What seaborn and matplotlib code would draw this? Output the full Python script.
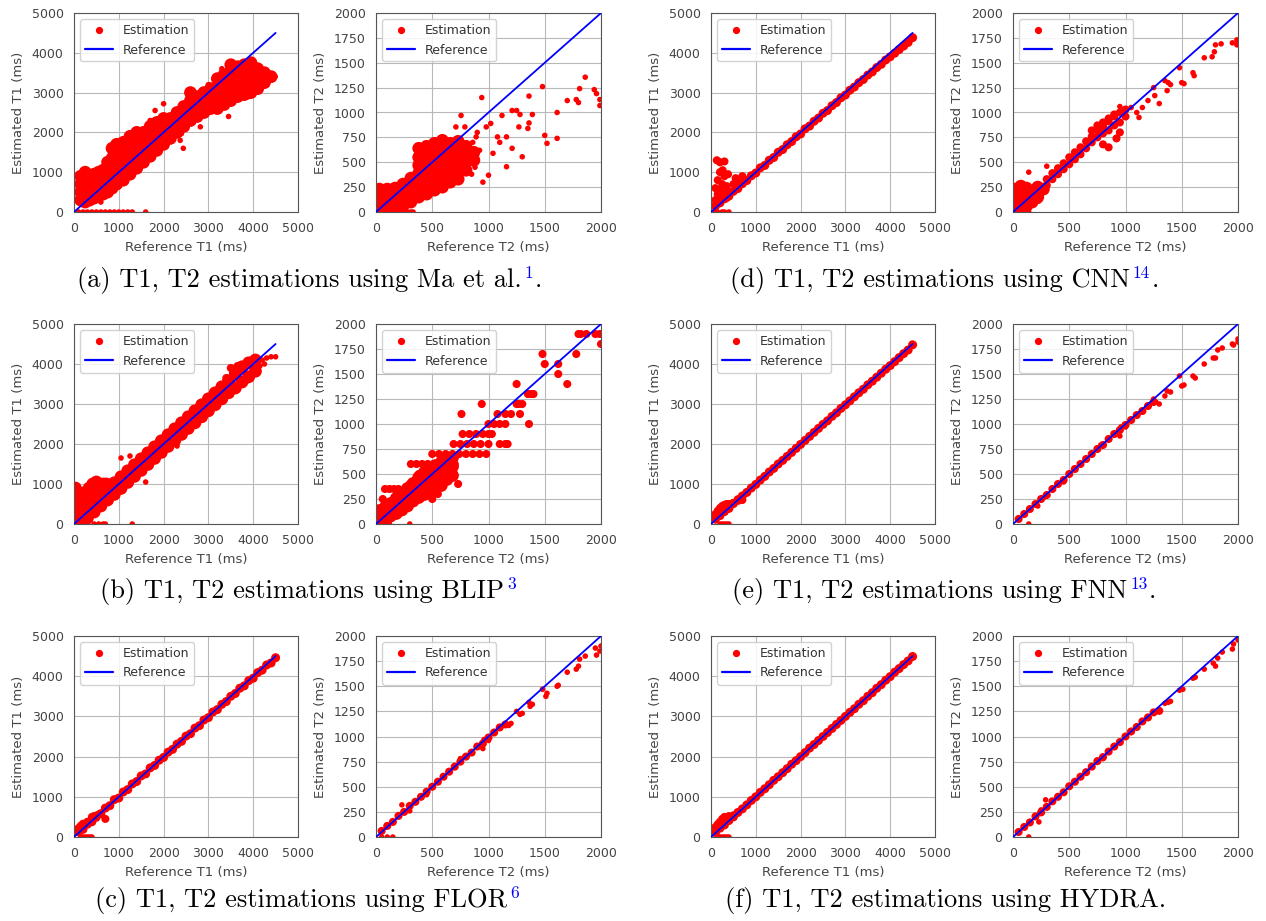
import matplotlib
matplotlib.use("Agg")
import matplotlib.pyplot as plt
from matplotlib.lines import Line2D
import seaborn as sns

# ------------------------------------------------------------------ data
T1_TICKS = [0, 1000, 2000, 3000, 4000, 5000]
T2_XTICKS = [0, 500, 1000, 1500, 2000]
T2_YTICKS = [0, 250, 500, 750, 1000, 1250, 1500, 1750, 2000]
REF_T1 = [0, 4500]
REF_T2 = [0, 2000]

T1_X = [100, 200, 300, 400, 500, 600, 700, 800, 900, 1000, 1100, 1200, 1300, 1400, 1500,
        1600, 1700, 1800, 1900, 2000, 2100, 2200, 2300, 2400, 2500, 2600, 2700, 2800, 2900,
        3000, 3100, 3200, 3300, 3400, 3500, 3600, 3700, 3800, 3900, 4000, 4100, 4200, 4300,
        4400, 4500]

# (a) Ma et al. - T1
A1_CORE_X = [150, 150, 150, 150, 250, 250, 250, 250, 250, 350, 350, 350, 350, 450, 450, 450, 450,
             550, 550, 550, 550, 650, 650, 650, 650, 750, 750, 750, 750, 850, 850, 850, 850, 850,
             950, 950, 950, 950, 950, 1100, 1100, 1100, 1100, 1100, 1250, 1250, 1250, 1250, 1250,
             1400, 1400, 1400, 1400, 1400, 1550, 1550, 1550, 1550, 1700, 1700, 1700, 1700,
             1850, 1850, 1850, 1850, 2000, 2000, 2000, 2000, 2150, 2150, 2150, 2300, 2300, 2300,
             2450, 2450, 2450, 2600, 2600, 2600, 2600, 2750, 2750, 2750, 2900, 2900, 2900,
             3050, 3050, 3050, 3200, 3200, 3200, 3200, 3350, 3350, 3350, 3350,
             3500, 3500, 3500, 3500, 3500, 3650, 3650, 3650, 3650, 3800, 3800, 3800, 3800,
             3950, 3950, 3950, 3950, 4100, 4100, 4100, 4250, 4250, 4400]
A1_CORE_Y = [300, 500, 700, 900, 250, 450, 650, 850, 1000, 300, 500, 700, 900, 350, 550, 750, 950,
             400, 600, 800, 1000, 450, 650, 850, 1050, 500, 750, 1000, 1250, 600, 850, 1100, 1350, 1600,
             700, 950, 1200, 1450, 1700, 800, 1050, 1300, 1550, 1750, 950, 1200, 1450, 1700, 1900,
             1100, 1350, 1600, 1850, 2000, 1250, 1500, 1750, 2000, 1400, 1650, 1900, 2150,
             1550, 1800, 2050, 2250, 1700, 1950, 2200, 2350, 1850, 2100, 2350, 2000, 2250, 2500,
             2150, 2400, 2650, 2300, 2550, 2800, 3000, 2400, 2650, 2900, 2500, 2750, 3000,
             2600, 2850, 3100, 2600, 2850, 3100, 3350, 2700, 2950, 3200, 3450,
             2800, 3050, 3300, 3550, 3700, 2900, 3150, 3400, 3650, 2950, 3200, 3450, 3700,
             3000, 3250, 3500, 3750, 3100, 3350, 3600, 3250, 3500, 3400]
A1_OUT_X = [2000, 1810, 2370, 2820, 3450, 4160, 4490, 2400, 2440, 1700, 2650, 3000, 4300, 4450,
            600, 3300, 3900]
A1_OUT_Y = [2720, 2550, 1800, 2140, 2400, 3560, 3400, 1970, 1600, 2300, 3050, 3200, 3500, 3350,
            250, 3600, 2900]
A1_ZERO_X = [100, 200, 300, 400, 500, 600, 700, 800, 900, 1000, 1100, 1200, 1300, 1600]
A1_ZERO_Y = [0, 0, 0, 0, 0, 0, 0, 0, 0, 0, 0, 0, 0, 0]

# (a) Ma et al. - T2
A2_CORE_X = [30, 30, 30, 30, 100, 100, 100, 100, 170, 170, 170, 170, 240, 240, 240, 240,
             310, 310, 310, 310, 380, 380, 380, 380, 380, 380, 380, 450, 450, 450, 450, 450, 450, 450,
             520, 520, 520, 520, 520, 520, 520, 590, 590, 590, 590, 590, 590, 590,
             660, 660, 660, 660, 660, 660, 730, 730, 730, 730, 730, 730,
             800, 800, 800, 800, 870, 870]
A2_CORE_Y = [30, 110, 190, 230, 30, 110, 190, 230, 30, 110, 190, 240, 60, 140, 220, 280,
             100, 180, 260, 340, 150, 230, 310, 390, 470, 550, 640, 180, 260, 340, 420, 500, 580, 660,
             220, 300, 380, 460, 540, 620, 690, 250, 330, 410, 490, 570, 650, 720,
             300, 380, 460, 540, 620, 690, 330, 410, 490, 570, 650, 710,
             420, 500, 580, 660, 520, 600]
A2_OUT_X = [940, 756, 710, 790, 1020, 1120, 1210, 1250, 1280, 1390, 1360, 1350, 1300, 1160, 1210,
            1160, 1270, 1360, 1480, 1500, 1520, 1610, 1610, 1700, 1780, 1800, 1810, 1860, 1940,
            1960, 1990, 1990, 950, 1000, 1040, 1080, 890, 980, 920, 1100, 880, 860, 900, 850]
A2_OUT_Y = [1150, 970, 855, 855, 890, 970, 1020, 1020, 980, 980, 895, 840, 555, 455, 640,
            755, 855, 1165, 1260, 770, 690, 1000, 740, 1120, 1130, 1100, 1240, 1355, 1230,
            1190, 1130, 1070, 300, 370, 590, 755, 755, 855, 620, 700, 450, 700, 800, 380]
A2_ZERO_X = [10, 40, 70, 100, 130, 160, 190, 220, 250, 280, 310, 330]
A2_ZERO_Y = [0, 0, 0, 0, 0, 0, 0, 0, 0, 0, 0, 0]

# (b) BLIP - T1
B1_X = [150, 300, 450, 600, 750, 900, 1050, 1200, 1350, 1500, 1650, 1800, 1950, 2100, 2250,
        2400, 2550, 2700, 2850, 3000, 3150, 3300, 3450, 3600, 3750, 3900, 4050]
B1_UP = [280, 430, 580, 730, 880, 1030, 1180, 1330, 1480, 1630, 1780, 1930, 2080, 2230, 2380,
         2530, 2680, 2830, 2980, 3130, 3280, 3430, 3580, 3780, 3930, 4030, 4100]
B1_LO = [50, 150, 300, 450, 600, 740, 890, 1040, 1190, 1340, 1490, 1640, 1790, 1940, 2090,
         2240, 2390, 2530, 2680, 2830, 2980, 3130, 3280, 3400, 3550, 3680, 3820]
B1_LOW_X = [30, 30, 30, 100, 100, 180, 180, 260, 260, 340, 340, 420, 420, 500, 500, 580, 650, 720]
B1_LOW_Y = [300, 600, 900, 150, 450, 300, 700, 500, 800, 400, 900, 600, 1000, 700, 1050, 900, 1000, 1000]
B1_HIGH_X = [3500, 3650, 3700, 3600, 3400, 3550, 3750, 3850]
B1_HIGH_Y = [3900, 3950, 3500, 3350, 3650, 3800, 3900, 3600]
B1_OUT_X = [1600, 2300, 1050, 1250, 4200, 4300, 4400, 4500, 4150, 4250]
B1_OUT_Y = [1050, 1950, 1650, 1700, 4100, 4150, 4180, 4180, 3950, 4000]
B1_ZERO_X = [450, 550, 650, 700, 1300]
B1_ZERO_Y = [0, 0, 0, 0, 0]

# (b) BLIP - T2
B2_X = [30, 80, 130, 180, 230, 280, 330, 380, 430, 480, 530, 580, 630, 680]
B2_UP = [135, 165, 205, 255, 305, 355, 405, 465, 515, 555, 585, 615, 635, 665]
B2_MID = [80, 100, 140, 180, 220, 270, 320, 365, 405, 440, 470, 500, 540, 575]
B2_LO = [30, 40, 80, 105, 140, 180, 230, 265, 295, 325, 355, 385, 445, 485]
B2_STRIPE_X = [310, 360, 410, 460, 510, 560, 610, 660, 700,
               500, 560, 620, 680, 740, 800, 860, 920, 980,
               690, 750, 810, 870, 930, 1000, 1100, 1150, 1170,
               770, 830, 890, 950, 1000, 1030,
               1000, 1050, 1100, 1150, 1360,
               760, 1080, 1150, 1200, 1280,
               940, 1250, 1270, 1300,
               1350, 1380, 1400,
               1250, 1700,
               1620,
               1500, 1620,
               1480, 1780,
               1800, 1820, 1870, 1950, 1990,
               2000,
               380, 440, 500, 560, 600,
               300, 360, 420, 480, 730,
               80, 120, 160, 200,
               550,
               60, 500]
B2_STRIPE_Y = [600, 600, 600, 600, 600, 600, 600, 600, 600,
               700, 700, 700, 700, 700, 700, 700, 700, 700,
               800, 800, 800, 800, 800, 800, 800, 800, 800,
               900, 900, 900, 900, 900, 900,
               1000, 1000, 1000, 1000, 1000,
               1100, 1100, 1100, 1100, 1100,
               1200, 1200, 1200, 1200,
               1300, 1300, 1300,
               1400, 1400,
               1500,
               1600, 1600,
               1700, 1700,
               1900, 1900, 1900, 1900, 1900,
               1800,
               500, 500, 500, 500, 500,
               400, 400, 400, 400, 400,
               350, 350, 350, 350,
               300,
               250, 250]
B2_ZERO_X = [30, 80, 120, 300]
B2_ZERO_Y = [0, 0, 0, 0]

# (c) FLOR - T1
C1_BAND = [130, 190, 320, 380, 520, 580, 720, 780, 930, 970, 1120, 1180, 1320, 1380, 1520,
           1570, 1720, 1780, 1910, 1980, 2110, 2180, 2310, 2380, 2510, 2570, 2710, 2770, 2910,
           2970, 3110, 3170, 3300, 3370, 3500, 3570, 3700, 3760, 3890, 3950, 4090, 4150, 4280,
           4330, 4460]
C1_LOW_X = [100, 150, 200, 250, 300, 350, 400, 450, 500, 550, 700]
C1_LOW_Y = [220, 280, 330, 300, 380, 360, 500, 520, 480, 560, 450]
C1_ZERO_X = [150, 200, 250, 300, 350, 400]
C1_ZERO_Y = [0, 0, 0, 0, 0, 0]

# (c) FLOR - T2
C2_X = [50, 100, 150, 200, 250, 300, 350, 400, 450, 500, 550, 600, 650, 700, 750, 800, 850,
        900, 950, 1000, 1050, 1100, 1150]
C2_BAND = [60, 110, 150, 210, 250, 310, 350, 400, 450, 500, 550, 600, 650, 700, 750, 800, 840,
           900, 930, 990, 1040, 1090, 1120]
C2_OUT_X = [230, 300, 950, 960, 1000, 1180, 1200, 1250, 1280, 1300, 1360, 1370, 1390, 1480,
            1510, 1520, 1610, 1620, 1700, 1780, 1800, 1810, 1860, 1950, 1960, 1990, 2000, 450,
            750, 50, 100, 150]
C2_OUT_Y = [320, 260, 880, 970, 960, 1110, 1130, 1250, 1220, 1230, 1340, 1300, 1320, 1470,
            1400, 1430, 1500, 1510, 1640, 1670, 1700, 1770, 1800, 1880, 1810, 1850, 1900, 420,
            780, 0, 0, 0]

# (d) CNN - T1
D1_BAND = [150, 230, 330, 400, 520, 590, 710, 790, 910, 980, 1110, 1170, 1300, 1370, 1500,
           1570, 1690, 1770, 1890, 1960, 2090, 2160, 2280, 2360, 2480, 2550, 2670, 2750, 2870,
           2940, 3060, 3140, 3250, 3330, 3440, 3520, 3630, 3710, 3820, 3900, 3990, 4080, 4170,
           4260, 4380]
D1_LOW_X = [100, 100, 150, 150, 200, 200, 200, 250, 250, 300, 300, 350, 350, 400,
            130, 200, 300, 260, 380, 500, 550, 600, 700]
D1_LOW_Y = [300, 600, 450, 800, 250, 550, 1000, 700, 400, 550, 900, 350, 650, 500,
            1300, 1250, 1270, 1050, 950, 700, 850, 750, 900]
D1_ZERO_X = [100, 150, 250, 300, 400]
D1_ZERO_Y = [0, 0, 0, 0, 0]

# (d) CNN - T2
D2_CORE_X = [20, 20, 20, 70, 70, 70, 70, 120, 120, 120, 170, 170, 220, 220, 270]
D2_CORE_Y = [40, 140, 230, 20, 110, 200, 260, 60, 160, 240, 100, 210, 150, 250, 230]
D2_X = [300, 350, 400, 450, 500, 550, 600, 650, 700, 750, 800, 850, 900, 950, 1000]
D2_UP = [330, 390, 440, 490, 550, 600, 650, 710, 760, 820, 860, 910, 960, 1000, 1030]
D2_LO = [270, 330, 380, 430, 480, 530, 580, 640, 700, 750, 790, 820, 870, 900, 960]
D2_WIDE_X = [700, 750, 800, 850, 900, 800, 850, 920, 950]
D2_WIDE_Y = [820, 870, 900, 940, 980, 680, 650, 740, 800]
D2_OUT_X = [950, 1000, 1050, 1100, 1120, 1150, 1200, 1250, 1260, 1300, 1350, 1370, 1400, 1380,
            1480, 1500, 1520, 1600, 1610, 1700, 1770, 1790, 1800, 1850, 1950, 1990, 2000, 1990,
            230, 300, 140, 100, 140, 60]
D2_OUT_Y = [1060, 1030, 1050, 1000, 950, 1050, 1120, 1250, 1170, 1090, 1320, 1220, 1280, 1300,
            1450, 1300, 1290, 1400, 1370, 1550, 1560, 1610, 1680, 1690, 1700, 1730, 1710, 1680,
            110, 460, 400, 0, 0, 0]

# (e) FNN - T1
E1_BAND = [120, 210, 310, 390, 510, 590, 700, 790, 900, 990, 1100, 1190, 1300, 1390, 1500,
           1590, 1690, 1790, 1890, 1990, 2090, 2190, 2290, 2390, 2490, 2580, 2690, 2780, 2890,
           2980, 3080, 3180, 3280, 3370, 3480, 3570, 3670, 3770, 3870, 3960, 4060, 4160, 4260,
           4350, 4480]
E1_LOW_X = [100, 150, 200, 250, 300, 350, 400, 450, 500, 600, 700, 250, 350]
E1_LOW_Y = [250, 330, 400, 450, 480, 430, 500, 480, 530, 620, 600, 350, 500]
E1_ZERO_X = [200, 250, 300, 350, 400]
E1_ZERO_Y = [0, 0, 0, 0, 0]

# (e) FNN - T2
E2_X = [50, 100, 150, 200, 250, 300, 350, 400, 450, 500, 550, 600, 650, 700, 750, 800, 850,
        900, 950, 1000, 1050, 1100, 1150, 1200, 1250]
E2_BAND = [50, 100, 150, 200, 250, 290, 350, 400, 440, 500, 550, 600, 650, 700, 750, 790, 850,
           900, 940, 990, 1040, 1090, 1130, 1180, 1220]
E2_OUT_X = [1250, 1270, 1300, 1350, 1370, 1400, 1480, 1500, 1520, 1600, 1620, 1700, 1780, 1800,
            1820, 1860, 1950, 1960, 2000, 2000, 950, 960, 1000, 140, 220, 280, 450, 780]
E2_OUT_Y = [1250, 1220, 1200, 1280, 1330, 1320, 1480, 1380, 1390, 1480, 1460, 1600, 1660, 1660,
            1740, 1760, 1800, 1790, 1850, 1820, 880, 970, 970, 0, 180, 270, 420, 790]

# (f) HYDRA - T1
F1_BAND = [110, 220, 300, 410, 500, 610, 700, 800, 910, 1000, 1110, 1200, 1300, 1410, 1500,
           1600, 1700, 1810, 1900, 2000, 2100, 2210, 2300, 2400, 2500, 2600, 2700, 2800, 2900,
           3000, 3100, 3190, 3300, 3390, 3500, 3590, 3700, 3790, 3900, 3990, 4100, 4190, 4290,
           4380, 4490]
F1_LOW_X = [100, 150, 200, 250, 300, 350, 400, 450, 500, 200, 300]
F1_LOW_Y = [250, 320, 380, 450, 500, 470, 520, 500, 540, 300, 400]
F1_ZERO_X = [200, 250, 300, 350, 400]
F1_ZERO_Y = [0, 0, 0, 0, 0]

# (f) HYDRA - T2
F2_X = [50, 100, 150, 200, 250, 300, 350, 400, 450, 500, 550, 600, 650, 700, 750, 800, 850,
        900, 950, 1000, 1050, 1100, 1150, 1200, 1250, 1300]
F2_BAND = [50, 100, 145, 205, 245, 300, 355, 400, 445, 505, 550, 600, 645, 700, 755, 795, 850,
           900, 945, 1000, 1050, 1095, 1150, 1190, 1240, 1255]
F2_OUT_X = [290, 230, 250, 140, 1350, 1380, 1400, 1480, 1510, 1600, 1620, 1700, 1780, 1800,
            1820, 1860, 1950, 1960, 2000, 2000, 1040, 800]
F2_OUT_Y = [370, 150, 270, 0, 1330, 1340, 1350, 1460, 1470, 1580, 1590, 1670, 1730, 1700,
            1780, 1840, 1870, 1920, 1960, 2000, 1050, 780]

CAPTIONS = [
    ("(a) T1, T2 estimations using Ma et al.", "1", "."),
    ("(b) T1, T2 estimations using BLIP", "3", ""),
    ("(c) T1, T2 estimations using FLOR", "6", ""),
    ("(d) T1, T2 estimations using CNN", "14", "."),
    ("(e) T1, T2 estimations using FNN", "13", "."),
    ("(f) T1, T2 estimations using HYDRA.", "", ""),
]

# ------------------------------------------------------------------ style
sns.set_theme(style="whitegrid")
plt.rcParams.update({
    "font.family": ["DejaVu Sans"],
    "axes.edgecolor": "#555555",
    "axes.linewidth": 0.8,
    "grid.color": "#b8b8b8",
    "grid.linewidth": 0.8,
    "xtick.color": "#444444",
    "ytick.color": "#444444",
    "axes.labelcolor": "#444444",
    "text.color": "#444444",
    "xtick.labelsize": 9,
    "ytick.labelsize": 9,
    "axes.labelsize": 9.5,
    "xtick.major.size": 0,
    "ytick.major.size": 0,
    "xtick.major.pad": 7.5,
    "ytick.major.pad": 7.5,
})

W, H = 1266, 921
fig = plt.figure(figsize=(W / 100, H / 100), dpi=100)
fig.patch.set_facecolor("white")

S_DOT, S_BAND2, S_BAND1, S_CORE = 16, 34, 42, 85

def add_ax(l, t, r, b):
    return fig.add_axes([l / W, 1 - b / H, (r - l) / W, (b - t) / H])

COLS = [(74, 298), (376, 601), (711, 935), (1013, 1238)]
ROWS = [(13, 212), (324, 524), (636, 837)]

panels = [
    (0, 0, "T1", [(A1_CORE_X, A1_CORE_Y, S_CORE), (A1_OUT_X, A1_OUT_Y, S_DOT),
                  (A1_ZERO_X, A1_ZERO_Y, S_DOT)]),
    (0, 1, "T2", [(A2_CORE_X, A2_CORE_Y, S_CORE), (A2_OUT_X, A2_OUT_Y, S_DOT),
                  (A2_ZERO_X, A2_ZERO_Y, S_DOT)]),
    (1, 0, "T1", [(B1_X, B1_UP, S_CORE), (B1_X, B1_LO, S_CORE), (B1_LOW_X, B1_LOW_Y, S_CORE),
                  (B1_HIGH_X, B1_HIGH_Y, S_BAND2), (B1_OUT_X, B1_OUT_Y, S_DOT),
                  (B1_ZERO_X, B1_ZERO_Y, S_DOT)]),
    (1, 1, "T2", [(B2_X, B2_UP, S_CORE), (B2_X, B2_MID, S_CORE), (B2_X, B2_LO, S_CORE),
                  (B2_STRIPE_X, B2_STRIPE_Y, S_BAND2), (B2_ZERO_X, B2_ZERO_Y, S_DOT)]),
    (2, 0, "T1", [(T1_X, C1_BAND, S_BAND1), (C1_LOW_X, C1_LOW_Y, S_BAND2),
                  (C1_ZERO_X, C1_ZERO_Y, S_DOT)]),
    (2, 1, "T2", [(C2_X, C2_BAND, S_BAND2), (C2_OUT_X, C2_OUT_Y, S_DOT)]),
    (0, 2, "T1", [(T1_X, D1_BAND, S_BAND1), (D1_LOW_X, D1_LOW_Y, S_BAND2),
                  (D1_ZERO_X, D1_ZERO_Y, S_DOT)]),
    (0, 3, "T2", [(D2_CORE_X, D2_CORE_Y, S_CORE), (D2_X, D2_UP, S_BAND2), (D2_X, D2_LO, S_BAND2),
                  (D2_WIDE_X, D2_WIDE_Y, S_BAND2), (D2_OUT_X, D2_OUT_Y, S_DOT)]),
    (1, 2, "T1", [(T1_X, E1_BAND, S_BAND1), (E1_LOW_X, E1_LOW_Y, S_BAND2),
                  (E1_ZERO_X, E1_ZERO_Y, S_DOT)]),
    (1, 3, "T2", [(E2_X, E2_BAND, S_BAND2), (E2_OUT_X, E2_OUT_Y, S_DOT)]),
    (2, 2, "T1", [(T1_X, F1_BAND, S_BAND1), (F1_LOW_X, F1_LOW_Y, S_BAND2),
                  (F1_ZERO_X, F1_ZERO_Y, S_DOT)]),
    (2, 3, "T2", [(F2_X, F2_BAND, S_BAND2), (F2_OUT_X, F2_OUT_Y, S_DOT)]),
]

legend_handles = [
    Line2D([], [], marker="o", color="red", linestyle="", markersize=4.2),
    Line2D([], [], color="blue", lw=1.6),
]

for row, col, kind, layers in panels:
    t, b = ROWS[row]
    l, r = COLS[col]
    ax = add_ax(l, t, r, b)
    ax.set_facecolor("white")
    for xs, ys, s in layers:
        sns.scatterplot(x=xs, y=ys, s=s, color="red", linewidth=0, edgecolor="none",
                        ax=ax, legend=False, zorder=2)
    ref = REF_T1 if kind == "T1" else REF_T2
    sns.lineplot(x=ref, y=ref, color="blue", lw=1.3, ax=ax, legend=False, zorder=3)
    if kind == "T1":
        ax.set_xlim(0, 5000); ax.set_ylim(0, 5000)
        ax.set_xticks(T1_TICKS); ax.set_yticks(T1_TICKS)
    else:
        ax.set_xlim(0, 2000); ax.set_ylim(0, 2000)
        ax.set_xticks(T2_XTICKS); ax.set_yticks(T2_YTICKS)
    ax.set_xlabel(f"Reference {kind} (ms)", labelpad=4)
    ax.set_ylabel(f"Estimated {kind} (ms)", labelpad=5)
    ax.grid(True, color="#b8b8b8", lw=0.8, zorder=0)
    ax.set_axisbelow(True)
    for sp in ax.spines.values():
        sp.set_visible(True)
        sp.set_color("#555555")
        sp.set_linewidth(0.8)
    leg = ax.legend(legend_handles, ["Estimation", "Reference"], loc="upper left",
                    fontsize=9, frameon=True, fancybox=True, framealpha=0.85,
                    edgecolor="#cccccc", handlelength=2.2)
    for txt in leg.get_texts():
        txt.set_color("#333333")

# faint watermark sliver at the far left edge (kept clear of the axis labels)
fig.text(10 / W, 0.47, "Journal Pre-proof", rotation=90, ha="right", va="center",
         fontsize=78, color="#e6e6e6", family="DejaVu Serif", zorder=-5)

# captions
CAP_FS, SUP_FS = 19, 12.5
CAP_POS = [(77, 287), (100, 598), (95, 907), (730, 287), (732, 598), (725, 907)]
fig.canvas.draw()
rend = fig.canvas.get_renderer()
for (main, sup, tail), (cx, cy) in zip(CAPTIONS, CAP_POS):
    tm = fig.text(cx / W, 1 - cy / H, main, fontfamily="cmr10", fontsize=CAP_FS,
                  va="baseline", ha="left", color="black")
    xe = tm.get_window_extent(renderer=rend).x1
    if sup:
        ts = fig.text((xe + 3) / W, 1 - (cy - 9) / H, sup, fontfamily="cmr10", fontsize=SUP_FS,
                      va="baseline", ha="left", color="blue")
        xe = ts.get_window_extent(renderer=rend).x1
    if tail:
        fig.text((xe + 1) / W, 1 - cy / H, tail, fontfamily="cmr10", fontsize=CAP_FS,
                 va="baseline", ha="left", color="black")

fig.savefig("out.png", dpi=100, facecolor="white")
